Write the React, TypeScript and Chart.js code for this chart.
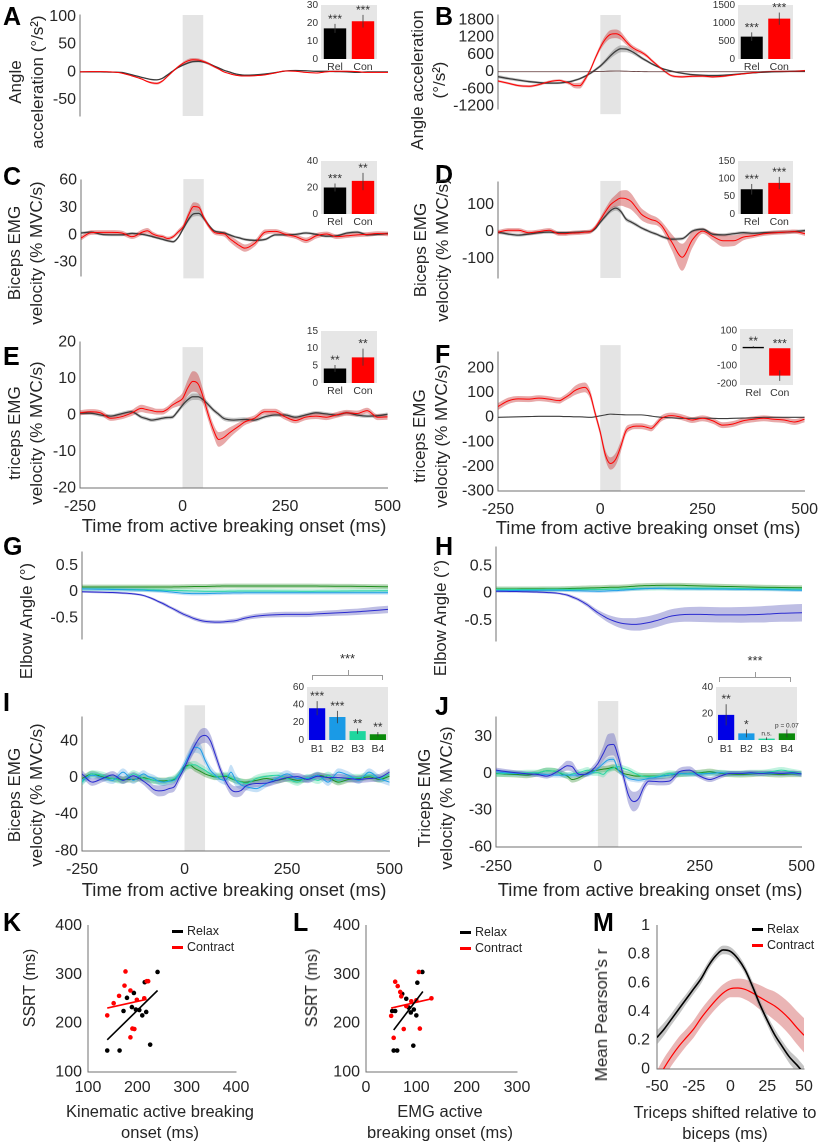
import React, { useEffect, useRef } from "react";
import { Chart, registerables } from "chart.js";

Chart.register(...registerables);

const FONT = '"Liberation Sans", Arial, Helvetica, sans-serif';
const TXT = "#262626";
const AXIS = "#707070";
const RED = "#ff0000";
const RED_BAND = "rgba(200,50,50,0.42)";
const DARK = "#3c3c3c";
const GRAY_BAND = "rgba(130,130,130,0.45)";
const C_B1 = "#2a2ad0";
const C_B2 = "#1e9ee8";
const C_B3 = "#26d6a2";
const C_B4 = "#1f8f1f";
const BAND_B1 = "rgba(100,100,190,0.42)";
const BAND_B2 = "rgba(90,165,230,0.35)";
const BAND_B3 = "rgba(80,220,165,0.35)";
const BAND_B4 = "rgba(60,150,60,0.38)";
const BAR_B = ["#0000e6", "#1a9ae6", "#1ed69e", "#0a8a0a"];

// ---------------- time grid (ms) ----------------
const T = [-250, -225, -200, -175, -150, -125, -100, -88, -75, -63, -50, -38, -25, -13, 0, 13, 25, 38, 50, 63, 75, 88, 100, 113, 125, 138, 150, 175, 200, 225, 250, 275, 300, 325, 350, 375, 400, 425, 450, 475, 500];
const TIME_TICKS = [-250, 0, 250, 500];
const ONSET = [0, 50];

// ---------------- A ----------------
const A_CON = [0, 0.5, 0.5, 0, -2, -7, -13, -17, -20, -21, -17, -9, 0, 8, 15, 20, 22, 21.5, 19, 15, 10, 5, 0, -3, -5.5, -7, -7.5, -7, -5.5, -2, 1.5, 1, -1, -2, 0, 1, 1, 0.5, -1, -1, -1];
const A_CON_SEM = [0.8, 0.8, 0.8, 0.8, 0.8, 1, 1.2, 1.5, 2, 2.2, 2, 1.8, 1.5, 2, 2.5, 3, 3, 3, 2.8, 2.5, 2, 1.5, 1.2, 1, 1, 1, 1, 0.9, 0.9, 0.9, 0.9, 0.9, 0.9, 0.9, 0.9, 0.9, 0.9, 0.9, 0.9, 0.9, 0.9];
const A_REL = [0, 0, 0, -0.5, -1, -5, -10, -12, -14, -14.5, -12, -6, 1, 7, 12, 16, 18.5, 19, 18, 15, 11, 7, 3, 0, -3, -5, -6, -5.5, -4, -1.5, 1.5, 2.5, 2, 1, 1, 0.5, 0, -1, 0, 0, 0];
const A_REL_SEM = [0.6, 0.6, 0.6, 0.6, 0.6, 0.6, 0.6, 0.8, 1, 1, 1, 1, 1, 1.2, 1.5, 1.8, 2, 2, 2, 1.8, 1.5, 1.2, 1, 1, 0.8, 0.8, 0.8, 0.8, 0.8, 0.7, 0.7, 0.7, 0.7, 0.7, 0.7, 0.7, 0.7, 0.7, 0.7, 0.7, 0.7];
const A_TICKS = [-50, 0, 50, 100];

// ---------------- B ----------------
const B_CON = [-320, -400, -480, -505, -445, -345, -300, -340, -400, -480, -483, -275, 50, 450, 850, 1150, 1300, 1320, 1250, 1050, 880, 760, 680, 560, 400, 240, 100, -140, -175, -155, -150, -175, -155, -110, -70, -30, 0, 15, 15, 20, 40];
const B_CON_SEM = [40, 40, 40, 40, 40, 40, 40, 45, 60, 90, 100, 90, 70, 80, 100, 130, 150, 150, 140, 110, 90, 80, 70, 60, 55, 50, 45, 40, 40, 40, 40, 40, 35, 30, 25, 25, 25, 25, 25, 25, 25];
const B_REL = [-170, -235, -290, -340, -375, -395, -390, -370, -345, -300, -240, -160, -60, 60, 200, 380, 560, 720, 800, 790, 720, 610, 490, 380, 280, 190, 120, 20, -50, -100, -120, -130, -120, -95, -65, -35, -15, 0, 10, 20, 30];
const B_REL_SEM = [60, 55, 50, 45, 40, 40, 40, 40, 40, 40, 40, 40, 45, 50, 60, 80, 100, 120, 120, 110, 90, 75, 60, 50, 40, 35, 30, 30, 30, 30, 30, 30, 28, 25, 25, 22, 20, 20, 20, 20, 20];
const B_THIN = [0, 0, 0, 0, 0, 0, 0, 0, 0, 0, 0, 0, 0, 5, 10, 18, 25, 28, 25, 20, 15, 10, 5, 3, 0, 0, 0, 0, 0, 0, 0, 0, 0, 0, 0, 0, 0, 0, 0, 0, 0];
const B_TICKS = [-1200, -600, 0, 600, 1200, 1800];

// ---------------- C ----------------
const C_CON = [-3.5, 2.5, 2.7, 2.7, 2, -2, 3, 4.5, 1, -1, -2, -4, -2, 3, 9, 22, 31, 30, 19, 9, 3, 1.5, 1, -4, -8, -12, -14.5, -9, 3, 3.8, 0.5, -2, -6, -1, 1, -2, -1, 0, 0.5, 1.5, 1];
const C_CON_SEM = [2.5, 2.5, 2.5, 2.5, 2.5, 2.5, 3, 3, 2.5, 2, 2, 2, 2, 2.5, 3, 4, 4.5, 4, 3, 2.5, 2.5, 2.5, 3, 3.5, 4, 4, 4, 3.5, 3, 2.5, 2.5, 2.5, 3, 3, 2.5, 2.5, 2.5, 2.5, 2.5, 2.5, 2.5];
const C_REL = [2, 3, 0.5, 0, 0, 1.6, 0.5, -0.5, -2, -3.5, -5, -6.5, -7.5, -3, 7, 17, 23, 23.5, 18, 10, 4.5, 3, 2, 0, -2, -3.5, -5, -6, -5, 0, 0, 0.5, 2, 0.5, -1.5, -1, 2, 3, 0, 0.5, 1.5];
const C_REL_SEM = [1.5, 1.5, 1.5, 1.5, 1.5, 1.5, 1.5, 1.5, 1.5, 1.5, 1.5, 1.5, 1.5, 1.5, 2, 2.5, 3, 3, 2.5, 2, 1.5, 1.5, 1.5, 1.5, 1.5, 1.5, 1.5, 1.5, 1.5, 1.5, 1.5, 1.5, 1.5, 1.5, 1.5, 1.5, 1.5, 1.5, 1.5, 1.5, 1.5];
const C_TICKS = [-30, 0, 30, 60];

// ---------------- D ----------------
const D_CON = [-2, 5, 5, -4, 0, 5, -8, -8, -6, -5, -4, -2, 0, 15, 44, 75, 100, 115, 124, 122, 112, 88, 65, 52, 44, 38, 22, -40, -95, -30, 2, -18, -34, -34, -20, -15, -8, -4, -2, 0, -8];
const D_CON_SEM = [8, 8, 8, 8, 8, 8, 8, 8, 8, 8, 8, 8, 8, 8, 10, 13, 17, 22, 28, 32, 30, 25, 22, 20, 17, 15, 15, 30, 50, 30, 10, 15, 22, 20, 12, 8, 8, 8, 8, 8, 8];
const D_REL = [-2, -9, -13, -9, -4, -2, -4, -4, -4, -3, -2, -1, 0, 10, 35, 58, 78, 87, 75, 46, 36, 25, 14, 5, -3, -10, -18, -28, -26, 2, 9, -10, -12, -8, -4, -6, -4, -3, -2, 0, 4];
const D_REL_SEM = [6, 6, 6, 6, 6, 6, 6, 6, 6, 6, 6, 6, 6, 6, 7, 8, 9, 9, 9, 8, 7, 7, 6, 6, 6, 6, 6, 6, 6, 6, 6, 6, 6, 6, 6, 6, 6, 6, 6, 6, 6];
const D_TICKS = [-100, 0, 100];

// ---------------- E ----------------
const E_CON = [0.6, 0.9, 0.6, -0.9, -0.5, 0.5, 1.8, 1.5, 1.2, 0.9, 0.9, 1.5, 2.7, 3.5, 4.5, 7.5, 9.2, 8.5, 5, 0, -4, -6.7, -6.2, -5, -4, -3, -2, -0.9, 0.9, 0.9, -0.5, -1.5, -0.6, -0.3, -0.6, 0, 0.6, 0.4, 1.2, -0.6, -0.5];
const E_CON_SEM = [0.7, 0.7, 0.7, 0.7, 0.7, 0.8, 1, 1, 0.9, 0.8, 0.8, 0.8, 0.9, 1.2, 1.6, 2.2, 2.8, 2.6, 2, 1.6, 1.6, 2, 1.8, 1.5, 1.2, 1, 0.9, 0.8, 0.8, 0.8, 0.8, 0.8, 0.8, 0.8, 0.8, 0.8, 0.8, 0.8, 0.8, 0.8, 0.8];
const E_REL = [0.5, 0.5, 0, -0.3, 0.3, 0.9, -0.6, -1, -1.4, -1.2, -0.9, -0.7, -0.6, 0.8, 2.7, 4.2, 5, 5, 4.2, 2.8, 1.4, 0.2, -0.9, -1.3, -1.4, -1.3, -1.2, -1.4, -0.5, 0, 0, -0.6, 0, 0.6, 0.3, 0, 0.6, 0, -0.3, -0.2, 0.2];
const E_REL_SEM = [0.5, 0.5, 0.5, 0.5, 0.5, 0.5, 0.5, 0.5, 0.5, 0.5, 0.5, 0.5, 0.5, 0.6, 0.7, 0.8, 0.9, 0.9, 0.8, 0.7, 0.6, 0.6, 0.6, 0.6, 0.6, 0.6, 0.6, 0.5, 0.5, 0.5, 0.5, 0.5, 0.5, 0.5, 0.5, 0.5, 0.5, 0.5, 0.5, 0.5, 0.5];
const E_TICKS = [-20, -10, 0, 10, 20];

// ---------------- F ----------------
const F_CON = [44, 67, 75, 74, 78, 74, 68, 78, 92, 108, 118, 122, 95, 20, -60, -155, -188, -170, -120, -55, -40, -36, -36, -40, -45, -25, -4, 7, 0, -11, -4, -14, -32, -27, -14, -8, -4, -8, -11, -19, -8];
const F_CON_SEM = [14, 13, 12, 12, 12, 12, 12, 12, 14, 18, 20, 20, 18, 16, 16, 20, 25, 25, 22, 16, 12, 12, 12, 12, 12, 12, 12, 12, 12, 12, 12, 12, 12, 12, 12, 12, 12, 12, 12, 12, 12];
const F_REL = [0, 1, 2, 3, 4, 4, 4, 3, 3, 2, 2, 1, 0, 2, 6, 10, 13, 12, 11, 10, 10, 10, 10, 8, 5, 2, 0, -2, -4, -4, -3, -4, -5, -4, -3, -2, 0, 0, 0, 0, 0];
const F_TICKS = [-300, -200, -100, 0, 100, 200];

// ---------------- G ----------------
const G_B1 = [0, -0.005, -0.01, -0.015, -0.025, -0.04, -0.07, -0.1, -0.14, -0.185, -0.23, -0.28, -0.33, -0.38, -0.43, -0.47, -0.51, -0.54, -0.56, -0.57, -0.575, -0.575, -0.57, -0.56, -0.55, -0.525, -0.5, -0.465, -0.445, -0.435, -0.43, -0.43, -0.43, -0.42, -0.41, -0.4, -0.39, -0.38, -0.365, -0.35, -0.335];
const G_B1_SEM = [0.02, 0.02, 0.02, 0.02, 0.02, 0.02, 0.02, 0.02, 0.025, 0.025, 0.03, 0.03, 0.03, 0.035, 0.035, 0.035, 0.035, 0.035, 0.035, 0.035, 0.035, 0.035, 0.035, 0.04, 0.04, 0.04, 0.04, 0.045, 0.045, 0.05, 0.05, 0.05, 0.05, 0.05, 0.055, 0.055, 0.06, 0.06, 0.065, 0.07, 0.07];
const G_B2 = [0.055, 0.05, 0.047, 0.043, 0.04, 0.035, 0.03, 0.025, 0.02, 0.015, 0.01, 0, -0.01, -0.02, -0.028, -0.033, -0.035, -0.035, -0.035, -0.033, -0.03, -0.028, -0.025, -0.023, -0.022, -0.021, -0.02, -0.02, -0.02, -0.02, -0.02, -0.02, -0.02, -0.02, -0.02, -0.02, -0.02, -0.02, -0.02, -0.02, -0.02];
const G_B2_SEM = 0.035;
const G_B3 = [0.055, 0.055, 0.055, 0.05, 0.045, 0.043, 0.04, 0.038, 0.035, 0.033, 0.03, 0.027, 0.025, 0.022, 0.02, 0.017, 0.015, 0.012, 0.01, 0.01, 0.01, 0.01, 0.01, 0.012, 0.013, 0.014, 0.015, 0.015, 0.015, 0.013, 0.012, 0.011, 0.01, 0.011, 0.012, 0.013, 0.015, 0.016, 0.017, 0.018, 0.02];
const G_B3_SEM = 0.04;
const G_B4 = [0.09, 0.09, 0.09, 0.09, 0.09, 0.09, 0.09, 0.09, 0.09, 0.09, 0.09, 0.09, 0.092, 0.093, 0.095, 0.097, 0.099, 0.1, 0.1, 0.103, 0.105, 0.107, 0.11, 0.11, 0.11, 0.11, 0.11, 0.11, 0.11, 0.11, 0.11, 0.11, 0.11, 0.108, 0.106, 0.105, 0.104, 0.103, 0.1, 0.097, 0.095];
const G_B4_SEM = 0.045;
const GH_TICKS = [-0.5, 0, 0.5];

// ---------------- H ----------------
const H_B1 = [0.036, 0.033, 0.03, 0.026, 0.022, 0.012, 0, -0.015, -0.036, -0.07, -0.11, -0.16, -0.22, -0.29, -0.36, -0.42, -0.47, -0.51, -0.54, -0.56, -0.57, -0.575, -0.57, -0.555, -0.54, -0.515, -0.49, -0.43, -0.4, -0.39, -0.39, -0.395, -0.4, -0.4, -0.4, -0.395, -0.39, -0.38, -0.37, -0.365, -0.36];
const H_B1_SEM = [0.02, 0.02, 0.02, 0.02, 0.02, 0.02, 0.02, 0.02, 0.025, 0.03, 0.03, 0.035, 0.04, 0.045, 0.05, 0.06, 0.07, 0.08, 0.09, 0.1, 0.11, 0.115, 0.12, 0.12, 0.12, 0.12, 0.12, 0.125, 0.13, 0.135, 0.14, 0.14, 0.14, 0.14, 0.145, 0.145, 0.15, 0.15, 0.155, 0.16, 0.16];
const H_B2 = [0.045, 0.048, 0.05, 0.051, 0.052, 0.053, 0.054, 0.053, 0.05, 0.048, 0.045, 0.042, 0.04, 0.038, 0.036, 0.038, 0.042, 0.046, 0.05, 0.057, 0.064, 0.071, 0.077, 0.082, 0.086, 0.088, 0.09, 0.085, 0.08, 0.079, 0.078, 0.077, 0.075, 0.073, 0.07, 0.069, 0.068, 0.065, 0.06, 0.057, 0.054];
const H_B2_SEM = 0.03;
const H_B3 = [0.068, 0.068, 0.068, 0.068, 0.068, 0.069, 0.07, 0.07, 0.07, 0.07, 0.07, 0.07, 0.07, 0.07, 0.07, 0.072, 0.074, 0.076, 0.078, 0.08, 0.082, 0.084, 0.085, 0.086, 0.087, 0.088, 0.089, 0.09, 0.09, 0.09, 0.09, 0.09, 0.09, 0.088, 0.086, 0.084, 0.082, 0.08, 0.078, 0.076, 0.075];
const H_B3_SEM = 0.04;
const H_B4 = [0.077, 0.078, 0.078, 0.079, 0.079, 0.08, 0.08, 0.082, 0.085, 0.088, 0.09, 0.093, 0.096, 0.098, 0.1, 0.104, 0.107, 0.11, 0.11, 0.115, 0.12, 0.128, 0.135, 0.138, 0.14, 0.142, 0.144, 0.145, 0.145, 0.14, 0.135, 0.13, 0.126, 0.122, 0.118, 0.114, 0.11, 0.107, 0.104, 0.102, 0.1];
const H_B4_SEM = 0.045;

// ---------------- I ----------------
const I_B1 = [4, -5, -1, 3, -3, 2, -4, -8, -13, -14.5, -14, -12, -10, 0, 11, 24, 35, 44, 46, 40, 25, 8, -4, -13, -15.5, -14, -9, -6.5, -6, -3, 0, 1, -2, 1.5, 0, 0, -1, -2, -1, 0, 6];
const I_B1_SEM = [4, 4, 4, 4, 4, 4, 4, 5, 5, 6, 6, 5, 5, 5, 5, 6, 7, 8, 8, 7, 6, 5, 5, 6, 6, 6, 5, 4, 4, 4, 4, 4, 4, 4, 4, 4, 4, 4, 4, 4, 4];
const I_B2 = [-3, 2.5, 0, -3, 6, -3, 4, 1, -1, -4, -5, -4, -3, 4, 15, 26, 33, 31, 19, 8, 2.5, -2, -3, 6, -3, -8, -10, -12, -6.5, -1, 4, -1, -1, 2.5, -5, 6, 2.5, -3, 6, -1, -5];
const I_B2_SEM = [4, 4, 4, 4, 4, 4, 4, 4, 4, 4, 4, 4, 4, 4, 5, 6, 6, 6, 5, 5, 4, 4, 5, 8, 7, 5, 4, 4, 4, 4, 4, 4, 4, 4, 4, 4, 4, 4, 4, 4, 4];
const I_B3 = [-5, 4, 2.5, -1, -3, 4, -1, -2, -3, -4, -5, -3, -1, 4, 10, 13.5, 14, 11, 8, 4, 1.5, 1.5, 2.5, 0, -3, -5, -6.5, -1, 1.5, 2.5, -1, -5, 0, -3, 2.5, -3, 0, 0, 2.5, -1, 4];
const I_B3_SEM = 4;
const I_B4 = [-1, 4, 0.7, -1, -2, -2, 0, -1.5, -3, -3.5, -3.6, -3, -2, 4, 11.6, 13.5, 10, 7, 4, 2, 0.7, 1, 1.5, -1, -3, -4.5, -5, -3, -1, -3, -1, -3, -1, 2.5, 0, -5, -2, -1, 0.7, -2, 1.5];
const I_B4_SEM = 3.5;
const I_TICKS = [-80, -40, 0, 40];

// ---------------- J ----------------
const J_B1 = [2.7, 1.5, 0.5, -0.3, -0.8, -2.2, 1.4, 4, 6.3, 5.5, 0, -1, 0, 3, 8, 16, 23, 23.7, 13.6, -2.7, -17.7, -23, -20.5, -11, -6.3, -6.5, -6.8, -6.3, 1.4, 2.7, -2.2, -5, -2.2, 0, 0, 0.5, 0, 0.5, 0, 0.5, -0.5];
const J_B1_SEM = [2, 2, 2, 2, 2, 2, 2, 3, 4, 4, 3, 2, 2, 3, 4, 6, 9, 9, 7, 5, 7, 8, 7, 4, 3, 3, 3, 3, 3, 3, 2, 2, 2, 2, 2, 2, 2, 2, 2, 2, 2];
const J_B2 = [1.4, 0.5, 0, -0.5, -0.5, -1, -1.4, -1.4, -1.4, -1.4, -1.4, -1, -0.8, 1, 4, 8, 11, 11.5, 2.7, -1, -4, -5, -5.5, -5, -4, -3.5, -2.7, -1.4, 0, -0.5, -0.5, 0, 0.5, 0, 0, 0, 0, 0, 0, 0, -0.5];
const J_B2_SEM = 2;
const J_B3 = [-0.5, 0, 0, 0.5, 0.5, 2.2, 1.4, 0, -1.4, -0.5, 0.5, 1.5, 2.7, 0.5, 0.5, -0.8, 2.7, 4.5, 5.5, 4, 2.7, 0.5, -1.4, -2.5, -2.7, -2.5, -2.2, 0, -0.5, 0, 0, 0, 0.5, 0, 0, 0.5, 0.5, 1.4, 2.7, 1.4, 0];
const J_B3_SEM = 2.5;
const J_B4 = [0, -0.5, -0.8, -1.4, 0, 2.2, 1.4, -0.5, -2.2, -5, -4, -2, 0.5, 2, 2.7, 3.5, 4, 5, 2.7, 0, -1, -2, -2.2, -2.2, -2.2, -2.2, -2.2, -1.4, -0.5, 0, 0.5, 1.4, 0, -0.5, -0.8, -0.5, 0, -0.5, -0.8, -0.5, -0.5];
const J_B4_SEM = 2.5;
const J_TICKS = [-60, -30, 0, 30];

// ---------------- insets ----------------
const RC_LABELS = ["Rel", "Con"];
const A_BAR = [17, 21], A_BAR_HI = [19.5, 24.5], A_BAR_LO = [14.5, 17.5], A_STARS = ["***", "***"], A_BAR_TICKS = [0, 10, 20, 30];
const B_BAR = [620, 1120], B_BAR_HI = [740, 1290], B_BAR_LO = [500, 950], B_STARS = ["***", "***"], B_BAR_TICKS = [0, 500, 1000, 1500];
const C_BAR = [20, 25], C_BAR_HI = [23, 31], C_BAR_LO = [17, 18], C_STARS = ["***", "**"], C_BAR_TICKS = [0, 10, 20, 30, 40];
const D_BAR = [70, 88], D_BAR_HI = [85, 105], D_BAR_LO = [55, 70], D_STARS = ["***", "***"], D_BAR_TICKS = [0, 50, 100, 150];
const E_BAR = [4.2, 7.4], E_BAR_HI = [5.2, 9.9], E_BAR_LO = [3.2, 5], E_STARS = ["**", "**"], E_BAR_TICKS = [0, 5, 10, 15];
const F_BAR = [8, -155], F_BAR_HI = [12, -125], F_BAR_LO = [4, -185], F_STARS = ["**", "***"], F_BAR_TICKS = [-200, -100, 0, 100];
const B_LABELS = ["B1", "B2", "B3", "B4"];
const I_BAR = [36, 26, 10, 6.5], I_BAR_HI = [44, 33, 13, 9], I_BAR_LO = [28, 19, 7, 4], I_STARS = ["***", "***", "**", "**"], I_BAR_TICKS = [0, 20, 40, 60];
const J_BAR = [19, 5, 1, 5], J_BAR_HI = [27, 8, 2, 8], J_BAR_LO = [11, 2, 0, 2], J_STARS = ["**", "*", "n.s.", "p = 0.07"], J_BAR_TICKS = [0, 20, 40];

// ---------------- K / L scatter ----------------
const K_RED_X = [139, 152, 163, 174, 176, 186, 186, 190, 194, 199, 214, 219, 222];
const K_RED_Y = [216, 241, 256, 277, 306, 267, 171, 189, 188, 248, 251, 286, 286];
const K_BLK_X = [139, 164, 179, 172, 189, 193, 197, 204, 210, 215, 218, 226, 241];
const K_BLK_Y = [144, 144, 252, 225, 233, 262, 228, 227, 216, 284, 223, 156, 305];
const K_FIT_BLK_X = [139, 241], K_FIT_BLK_Y = [166, 267];
const K_FIT_RED_X = [139, 219], K_FIT_RED_Y = [231, 249];
const K_XTICKS = [100, 200, 300, 400];
const L_RED_X = [50, 55, 58, 63, 68, 70, 75, 80, 90, 100, 105, 107, 130];
const L_RED_Y = [215, 170, 285, 276, 264, 255, 188, 235, 245, 247, 305, 189, 251];
const L_BLK_X = [52, 58, 55, 62, 72, 80, 85, 89, 94, 100, 102, 112, 95];
const L_BLK_Y = [225, 225, 144, 144, 260, 250, 232, 222, 154, 216, 283, 305, 228];
const L_FIT_BLK_X = [55, 113], L_FIT_BLK_Y = [186, 265];
const L_FIT_RED_X = [50, 130], L_FIT_RED_Y = [231, 250];
const L_XTICKS = [0, 100, 200, 300];
const SSRT_TICKS = [100, 200, 300, 400];

// ---------------- M ----------------
const M_X = [-50, -45, -40, -35, -30, -25, -20, -15, -10, -5, 0, 5, 10, 15, 20, 25, 30, 35, 40, 45, 50];
const M_REL = [0.22, 0.28, 0.35, 0.42, 0.49, 0.56, 0.63, 0.72, 0.79, 0.83, 0.82, 0.77, 0.69, 0.575, 0.45, 0.34, 0.24, 0.16, 0.085, 0.03, -0.03];
const M_REL_SEM = [0.05, 0.045, 0.04, 0.04, 0.035, 0.035, 0.035, 0.03, 0.03, 0.03, 0.03, 0.03, 0.03, 0.035, 0.035, 0.035, 0.04, 0.04, 0.045, 0.05, 0.05];
const M_CON = [-0.08, 0.01, 0.09, 0.16, 0.22, 0.28, 0.355, 0.42, 0.48, 0.53, 0.56, 0.565, 0.555, 0.53, 0.5, 0.47, 0.44, 0.4, 0.35, 0.29, 0.235];
const M_CON_SEM = [0.07, 0.07, 0.065, 0.065, 0.06, 0.06, 0.06, 0.06, 0.06, 0.06, 0.06, 0.065, 0.07, 0.075, 0.085, 0.09, 0.1, 0.105, 0.11, 0.115, 0.12];
const M_XTICKS = [-50, -25, 0, 25, 50];
const M_YTICKS = [0, 0.2, 0.4, 0.6, 0.8, 1];

// ================= helpers =================
type Series = { y: number[]; sem?: number | number[]; color: string; band?: string; width?: number };

function buildLines(xs: number[], series: Series[]) {
  const lines: any[] = [];
  const bands: any[] = [];
  for (const s of series) {
    lines.push({
      data: xs.map((x, i) => ({ x, y: s.y[i] })),
      borderColor: s.color,
      borderWidth: s.width ?? 1,
      pointRadius: 0,
      fill: false,
    });
    if (s.sem !== undefined) {
      const e = (i: number) => (typeof s.sem === "number" ? (s.sem as number) : (s.sem as number[])[i]);
      bands.push({ data: xs.map((x, i) => ({ x, y: s.y[i] + e(i) })), borderWidth: 0, pointRadius: 0, backgroundColor: s.band, fill: "+1" });
      bands.push({ data: xs.map((x, i) => ({ x, y: s.y[i] - e(i) })), borderWidth: 0, pointRadius: 0, fill: false });
    }
  }
  return [...lines, ...bands];
}

function linAxis(o: { min: number; max: number; ticks: number[]; pos: string; show: boolean; fit: number; pad: number; size?: number }) {
  return {
    type: "linear",
    position: o.pos,
    min: o.min,
    max: o.max,
    display: o.show,
    afterFit: (s: any) => {
      if (o.pos === "left") s.width = o.fit;
      else s.height = o.fit;
    },
    afterBuildTicks: (s: any) => {
      s.ticks = o.ticks.map((v) => ({ value: v }));
    },
    grid: { display: false, drawTicks: false },
    border: { display: true, color: AXIS, width: 1 },
    ticks: {
      font: { family: FONT, size: o.size ?? 16 },
      color: TXT,
      padding: o.pad,
      maxRotation: 0,
      autoSkip: false,
      callback: (v: any) => String(v),
    },
  };
}

const onsetPlugin = (range: number[] | null) => ({
  id: "onset",
  beforeDraw(chart: any) {
    const { ctx, chartArea, scales } = chart;
    const x0 = scales.x.getPixelForValue(ONSET[0]);
    const x1 = scales.x.getPixelForValue(ONSET[1]);
    const yTop = range ? scales.y.getPixelForValue(range[1]) : chartArea.top;
    const yBot = range ? scales.y.getPixelForValue(range[0]) : chartArea.bottom;
    ctx.save();
    ctx.fillStyle = "#e4e4e4";
    ctx.fillRect(x0, yTop, x1 - x0, yBot - yTop);
    ctx.restore();
  },
});

const areaBg = {
  id: "areaBg",
  beforeDraw(chart: any) {
    const { ctx, chartArea: a } = chart;
    ctx.save();
    ctx.fillStyle = "#e6e6e6";
    ctx.fillRect(a.left, a.top, a.right - a.left, a.bottom - a.top);
    ctx.restore();
  },
};

const errPlugin = (hi: number[], lo: number[], stars: string[]) => ({
  id: "err",
  afterDatasetsDraw(chart: any) {
    const meta = chart.getDatasetMeta(0);
    const y = chart.scales.y;
    const ctx = chart.ctx;
    ctx.save();
    meta.data.forEach((bar: any, i: number) => {
      const x = bar.x;
      ctx.strokeStyle = "#3a3a3a";
      ctx.lineWidth = 0.8;
      ctx.beginPath();
      ctx.moveTo(x, y.getPixelForValue(lo[i]));
      ctx.lineTo(x, y.getPixelForValue(hi[i]));
      ctx.stroke();
      const s = stars[i];
      const small = s.indexOf("*") < 0;
      ctx.fillStyle = "#333";
      ctx.textAlign = "center";
      ctx.textBaseline = "alphabetic";
      ctx.font = `${small ? 6.5 : 12}px ${FONT}`;
      const top = y.getPixelForValue(Math.max(hi[i], 0));
      ctx.fillText(s, x, small ? top - 2 : top - 1);
    });
    ctx.restore();
  },
});

const BASE = { responsive: false, animation: false, devicePixelRatio: 2, events: [] as any[] };
const NOPLUG = { legend: { display: false }, tooltip: { enabled: false } };

// main time-series panels
const TS_PAD = { L: 62, T: 18, R: 22, BX: 34, BH: 12 };

function tsConfig(p: any) {
  return {
    type: "line",
    data: { datasets: buildLines(p.xs ?? T, p.series) },
    options: {
      ...BASE,
      layout: { padding: { left: 0, top: TS_PAD.T, right: TS_PAD.R, bottom: p.showX ? 0 : TS_PAD.BH } },
      elements: { line: { cubicInterpolationMode: "monotone" } },
      scales: {
        x: linAxis({ min: -250, max: 500, ticks: TIME_TICKS, pos: "bottom", show: p.showX, fit: TS_PAD.BX, pad: p.xpad ?? 9 }),
        y: linAxis({ min: p.y[0], max: p.y[1], ticks: p.ticks, pos: "left", show: true, fit: TS_PAD.L, pad: 4 }),
      },
      plugins: NOPLUG,
    },
    plugins: [onsetPlugin(p.band)],
  };
}

const IN_PAD = { L: 30, T: 14, R: 4, B: 18 };
function insetConfig(p: any) {
  return {
    type: "bar",
    data: {
      labels: p.labels,
      datasets: [{ data: p.values, backgroundColor: p.colors, barPercentage: 0.8, categoryPercentage: 1, borderWidth: 0 }],
    },
    options: {
      ...BASE,
      layout: { padding: { left: 0, top: IN_PAD.T, right: IN_PAD.R, bottom: 0 } },
      scales: {
        x: {
          afterFit: (s: any) => { s.height = IN_PAD.B; },
          grid: { display: false, drawTicks: false },
          border: { display: false },
          ticks: { font: { family: FONT, size: 10.5 }, color: "#333", padding: p.xpad ?? 2 },
        },
        y: {
          type: "linear",
          min: p.y[0],
          max: p.y[1],
          afterFit: (s: any) => { s.width = IN_PAD.L; },
          afterBuildTicks: (s: any) => { s.ticks = p.ticks.map((v: number) => ({ value: v })); },
          grid: { display: false, drawTicks: false },
          border: { display: false },
          ticks: { font: { family: FONT, size: 10 }, color: "#333", padding: 3, callback: (v: any) => String(v) },
        },
      },
      plugins: NOPLUG,
    },
    plugins: [areaBg, errPlugin(p.hi, p.lo, p.stars)],
  };
}

const SC_PAD = { L: 50, T: 14, R: 20, B: 30 };
function pts(xs: number[], ys: number[]) {
  return xs.map((x, i) => ({ x, y: ys[i] }));
}
function scatterConfig(p: any) {
  return {
    type: "scatter",
    data: {
      datasets: [
        { type: "line", data: pts(p.fbx, p.fby), borderColor: "#000", borderWidth: 1.6, pointRadius: 0, showLine: true },
        { type: "line", data: pts(p.frx, p.fry), borderColor: RED, borderWidth: 1.6, pointRadius: 0, showLine: true },
        { data: pts(p.rx, p.ry), backgroundColor: RED, borderWidth: 0, pointRadius: 2.3 },
        { data: pts(p.bx, p.by), backgroundColor: "#000", borderWidth: 0, pointRadius: 2.3 },
      ],
    },
    options: {
      ...BASE,
      layout: { padding: { left: 0, top: SC_PAD.T, right: SC_PAD.R, bottom: 0 } },
      scales: {
        x: linAxis({ min: p.x[0], max: p.x[1], ticks: p.xticks, pos: "bottom", show: true, fit: SC_PAD.B, pad: 6 }),
        y: linAxis({ min: 100, max: 400, ticks: SSRT_TICKS, pos: "left", show: true, fit: SC_PAD.L, pad: 6 }),
      },
      plugins: NOPLUG,
    },
  };
}

function mConfig() {
  return {
    type: "line",
    data: {
      datasets: buildLines(M_X, [
        { y: M_REL, sem: M_REL_SEM, color: "#000", band: "rgba(150,150,150,0.55)", width: 1.6 },
        { y: M_CON, sem: M_CON_SEM, color: RED, band: "rgba(200,60,60,0.38)", width: 1.2 },
      ]),
    },
    options: {
      ...BASE,
      layout: { padding: { left: 0, top: SC_PAD.T, right: SC_PAD.R, bottom: 0 } },
      elements: { line: { cubicInterpolationMode: "monotone" } },
      scales: {
        x: linAxis({ min: -50, max: 50, ticks: M_XTICKS, pos: "bottom", show: true, fit: SC_PAD.B, pad: 8 }),
        y: linAxis({ min: 0, max: 1, ticks: M_YTICKS, pos: "left", show: true, fit: SC_PAD.L, pad: 7 }),
      },
      plugins: NOPLUG,
    },
  };
}

// ================= components =================
function Plot({ area, pad, make }: { area: number[]; pad: number[]; make: () => any }) {
  const ref = useRef<HTMLCanvasElement | null>(null);
  useEffect(() => {
    if (!ref.current) return;
    const chart = new Chart(ref.current, make());
    return () => chart.destroy();
  }, []);
  const [x0, y0, x1, y1] = area;
  const [L, Tp, R, B] = pad;
  const w = x1 - x0 + L + R;
  const h = y1 - y0 + Tp + B;
  return <canvas ref={ref} width={w} height={h} style={{ position: "absolute", left: x0 - L, top: y0 - Tp, width: w, height: h }} />;
}

function Letter({ ch, x, y }: { ch: string; x: number; y: number }) {
  return (
    <div style={{ position: "absolute", left: x, top: y, fontFamily: FONT, fontWeight: "bold", fontSize: 25, lineHeight: "25px", color: "#000" }}>{ch}</div>
  );
}

function VTitle({ cx, cy, lines, size = 17, lh = 22 }: { cx: number; cy: number; lines: string[]; size?: number; lh?: number }) {
  return (
    <div
      style={{
        position: "absolute", left: cx, top: cy, transform: "translate(-50%,-50%) rotate(-90deg)",
        fontFamily: FONT, fontSize: size, lineHeight: lh + "px", color: TXT, whiteSpace: "nowrap", textAlign: "center",
      }}
    >
      {lines.map((l, i) => (<div key={i}>{l}</div>))}
    </div>
  );
}

function HTitle({ cx, cy, lines, size = 18.5, lh = 21 }: { cx: number; cy: number; lines: string[]; size?: number; lh?: number }) {
  return (
    <div
      style={{
        position: "absolute", left: cx, top: cy, transform: "translate(-50%,-50%)",
        fontFamily: FONT, fontSize: size, lineHeight: lh + "px", color: TXT, whiteSpace: "nowrap", textAlign: "center",
      }}
    >
      {lines.map((l, i) => (<div key={i}>{l}</div>))}
    </div>
  );
}

function Legend({ x, y }: { x: number; y: number }) {
  const rows = [{ c: "#000", t: "Relax" }, { c: RED, t: "Contract" }];
  return (
    <>
      {rows.map((r, i) => (
        <React.Fragment key={i}>
          <div style={{ position: "absolute", left: x, top: y + i * 16 - 1, width: 11, height: 2.5, background: r.c }} />
          <div style={{ position: "absolute", left: x + 15, top: y + i * 16 - 8, fontFamily: FONT, fontSize: 12.5, lineHeight: "16px", color: TXT }}>{r.t}</div>
        </React.Fragment>
      ))}
    </>
  );
}

function Bracket({ x0, x1, y, label }: { x0: number; x1: number; y: number; label: string }) {
  const mid = (x0 + x1) / 2;
  const c = "#9a9a9a";
  return (
    <>
      <div style={{ position: "absolute", left: x0, top: y, width: x1 - x0, height: 1, background: c }} />
      <div style={{ position: "absolute", left: x0, top: y, width: 1, height: 5, background: c }} />
      <div style={{ position: "absolute", left: x1 - 1, top: y, width: 1, height: 5, background: c }} />
      <div style={{ position: "absolute", left: mid, top: y - 5, width: 1, height: 5, background: c }} />
      <div style={{ position: "absolute", left: mid, top: y - 17, transform: "translate(-50%,-50%)", fontFamily: FONT, fontSize: 13, color: "#333", whiteSpace: "nowrap" }}>{label}</div>
    </>
  );
}

// ================= panel definitions =================
const TS_PANELS = [
  { area: [80, 15, 388, 150], y: [-80, 103], ticks: A_TICKS, showX: false, band: null,
    series: [{ y: A_CON, sem: A_CON_SEM, color: RED, band: RED_BAND }, { y: A_REL, sem: A_REL_SEM, color: DARK, band: GRAY_BAND, width: 1.3 }] },
  { area: [498, 15, 805, 143], y: [-1294, 1974], ticks: B_TICKS, showX: false, band: [-1473, 1974],
    series: [{ y: B_THIN, color: "#5a3030", width: 0.8 }, { y: B_CON, sem: B_CON_SEM, color: RED, band: RED_BAND }, { y: B_REL, sem: B_REL_SEM, color: DARK, band: GRAY_BAND, width: 1.3 }] },
  { area: [81, 180, 388, 310], y: [-45, 60], ticks: C_TICKS, showX: false, band: [-47.6, 61],
    series: [{ y: C_CON, sem: C_CON_SEM, color: RED, band: RED_BAND }, { y: C_REL, sem: C_REL_SEM, color: DARK, band: GRAY_BAND, width: 1.3 }] },
  { area: [498, 182, 805, 312], y: [-172, 184], ticks: D_TICKS, showX: false, band: [-172, 188],
    series: [{ y: D_CON, sem: D_CON_SEM, color: RED, band: RED_BAND }, { y: D_REL, sem: D_REL_SEM, color: DARK, band: GRAY_BAND, width: 1.3 }] },
  { area: [80, 342, 388, 488], y: [-20, 20], ticks: E_TICKS, showX: true, band: [-20, 18.6],
    series: [{ y: E_CON, sem: E_CON_SEM, color: RED, band: RED_BAND }, { y: E_REL, sem: E_REL_SEM, color: DARK, band: GRAY_BAND, width: 1.3 }] },
  { area: [498, 352, 805, 491], y: [-300, 266], ticks: F_TICKS, showX: true, band: [-300, 294],
    series: [{ y: F_CON, sem: F_CON_SEM, color: RED, band: RED_BAND }, { y: F_REL, color: DARK, width: 1.1 }] },
  { area: [82, 552, 388, 673], y: [-0.896, 0.754], ticks: GH_TICKS, showX: false, band: null, noBand: true,
    series: [
      { y: G_B1, sem: G_B1_SEM, color: C_B1, band: BAND_B1 },
      { y: G_B2, sem: G_B2_SEM, color: C_B2, band: BAND_B2 },
      { y: G_B3, sem: G_B3_SEM, color: C_B3, band: BAND_B3 },
      { y: G_B4, sem: G_B4_SEM, color: C_B4, band: BAND_B4 },
    ] },
  { area: [496, 547, 802, 675], y: [-0.88, 0.85], ticks: GH_TICKS, showX: false, band: null, noBand: true,
    series: [
      { y: H_B1, sem: H_B1_SEM, color: C_B1, band: BAND_B1 },
      { y: H_B2, sem: H_B2_SEM, color: C_B2, band: BAND_B2 },
      { y: H_B3, sem: H_B3_SEM, color: C_B3, band: BAND_B3 },
      { y: H_B4, sem: H_B4_SEM, color: C_B4, band: BAND_B4 },
    ] },
  { area: [82, 717, 390, 851], y: [-80, 66], ticks: I_TICKS, showX: true, band: [-80, 78.8],
    series: [
      { y: I_B1, sem: I_B1_SEM, color: C_B1, band: BAND_B1 },
      { y: I_B2, sem: I_B2_SEM, color: C_B2, band: BAND_B2 },
      { y: I_B3, sem: I_B3_SEM, color: C_B3, band: BAND_B3 },
      { y: I_B4, sem: I_B4_SEM, color: C_B4, band: BAND_B4 },
    ] },
  { area: [496, 717, 803, 847], y: [-60, 46], ticks: J_TICKS, showX: true, band: [-60, 59], xpad: 10,
    series: [
      { y: J_B1, sem: J_B1_SEM, color: C_B1, band: BAND_B1 },
      { y: J_B2, sem: J_B2_SEM, color: C_B2, band: BAND_B2 },
      { y: J_B3, sem: J_B3_SEM, color: C_B3, band: BAND_B3 },
      { y: J_B4, sem: J_B4_SEM, color: C_B4, band: BAND_B4 },
    ] },
];

const RC_COLORS = ["#000000", "#ff0000"];
const INSETS = [
  { area: [321, 5, 377, 59], labels: RC_LABELS, values: A_BAR, hi: A_BAR_HI, lo: A_BAR_LO, stars: A_STARS, y: [0, 30], ticks: A_BAR_TICKS, colors: RC_COLORS },
  { area: [738, 5, 793, 59], labels: RC_LABELS, values: B_BAR, hi: B_BAR_HI, lo: B_BAR_LO, stars: B_STARS, y: [0, 1500], ticks: B_BAR_TICKS, colors: RC_COLORS },
  { area: [321, 161, 377, 214], labels: RC_LABELS, values: C_BAR, hi: C_BAR_HI, lo: C_BAR_LO, stars: C_STARS, y: [0, 40], ticks: C_BAR_TICKS, colors: RC_COLORS },
  { area: [738, 161, 793, 214], labels: RC_LABELS, values: D_BAR, hi: D_BAR_HI, lo: D_BAR_LO, stars: D_STARS, y: [0, 150], ticks: D_BAR_TICKS, colors: RC_COLORS },
  { area: [321, 331, 377, 383], labels: RC_LABELS, values: E_BAR, hi: E_BAR_HI, lo: E_BAR_LO, stars: E_STARS, y: [0, 15], ticks: E_BAR_TICKS, colors: RC_COLORS },
  { area: [740, 329, 793, 385], labels: RC_LABELS, values: F_BAR, hi: F_BAR_HI, lo: F_BAR_LO, stars: F_STARS, y: [-208, 109], ticks: F_BAR_TICKS, colors: RC_COLORS },
  { area: [307, 687, 388, 740], labels: B_LABELS, values: I_BAR, hi: I_BAR_HI, lo: I_BAR_LO, stars: I_STARS, y: [0, 60], ticks: I_BAR_TICKS, colors: BAR_B, xpad: 3 },
  { area: [716, 687, 797, 740], labels: B_LABELS, values: J_BAR, hi: J_BAR_HI, lo: J_BAR_LO, stars: J_STARS, y: [0, 40], ticks: J_BAR_TICKS, colors: BAR_B, xpad: 3 },
];

export default function App() {
  return (
    <div style={{ position: "absolute", left: 0, top: 0, width: 820, height: 1143, overflow: "hidden", background: "#fff" }}>
      {TS_PANELS.map((p: any, i) => (
        <Plot
          key={"ts" + i}
          area={p.area}
          pad={[TS_PAD.L, TS_PAD.T, TS_PAD.R, p.showX ? TS_PAD.BX : TS_PAD.BH]}
          make={() => {
            const cfg: any = tsConfig(p);
            if (p.noBand) cfg.plugins = [];
            return cfg;
          }}
        />
      ))}
      {INSETS.map((p: any, i) => (
        <Plot key={"in" + i} area={p.area} pad={[IN_PAD.L, IN_PAD.T, IN_PAD.R, IN_PAD.B]} make={() => insetConfig(p)} />
      ))}
      <Plot area={[88, 924, 236, 1072]} pad={[SC_PAD.L, SC_PAD.T, SC_PAD.R, SC_PAD.B]}
        make={() => scatterConfig({ rx: K_RED_X, ry: K_RED_Y, bx: K_BLK_X, by: K_BLK_Y, fbx: K_FIT_BLK_X, fby: K_FIT_BLK_Y, frx: K_FIT_RED_X, fry: K_FIT_RED_Y, x: [100, 400], xticks: K_XTICKS })} />
      <Plot area={[366, 924, 517, 1072]} pad={[SC_PAD.L, SC_PAD.T, SC_PAD.R, SC_PAD.B]}
        make={() => scatterConfig({ rx: L_RED_X, ry: L_RED_Y, bx: L_BLK_X, by: L_BLK_Y, fbx: L_FIT_BLK_X, fby: L_FIT_BLK_Y, frx: L_FIT_RED_X, fry: L_FIT_RED_Y, x: [0, 300], xticks: L_XTICKS })} />
      <Plot area={[657, 923, 804, 1069]} pad={[SC_PAD.L, SC_PAD.T, SC_PAD.R, SC_PAD.B]} make={mConfig} />

      <Letter ch="A" x={3} y={4} />
      <Letter ch="B" x={435} y={4} />
      <Letter ch="C" x={3} y={164} />
      <Letter ch="D" x={435} y={162} />
      <Letter ch="E" x={3} y={344} />
      <Letter ch="F" x={435} y={342} />
      <Letter ch="G" x={3} y={534} />
      <Letter ch="H" x={435} y={534} />
      <Letter ch="I" x={3} y={690} />
      <Letter ch="J" x={435} y={694} />
      <Letter ch="K" x={3} y={910} />
      <Letter ch="L" x={293} y={910} />
      <Letter ch="M" x={593} y={910} />

      <VTitle cx={27} cy={82} lines={["Angle", "acceleration (°/s²)"]} />
      <VTitle cx={429} cy={80} lines={["Angle acceleration", "(°/s²)"]} />
      <VTitle cx={26} cy={253} lines={["Biceps EMG", "velocity (% MVC/s)"]} />
      <VTitle cx={432} cy={250} lines={["Biceps EMG", "velocity (% MVC/s)"]} />
      <VTitle cx={26} cy={433} lines={["triceps EMG", "velocity (% MVC/s)"]} />
      <VTitle cx={431} cy={436} lines={["triceps EMG", "velocity (% MVC/s)"]} />
      <VTitle cx={27} cy={621} lines={["Elbow Angle (°)"]} />
      <VTitle cx={441} cy={618} lines={["Elbow Angle (°)"]} />
      <VTitle cx={26} cy={795} lines={["Biceps EMG", "velocity (% MVC/s)"]} />
      <VTitle cx={436} cy={798} lines={["Triceps EMG", "velocity (% MVC/s)"]} />
      <VTitle cx={30} cy={988} lines={["SSRT (ms)"]} size={16} />
      <VTitle cx={312} cy={988} lines={["SSRT (ms)"]} size={16} />
      <VTitle cx={602} cy={1015} lines={["Mean Pearson's r"]} />

      <HTitle cx={234} cy={525} lines={["Time from active breaking onset (ms)"]} />
      <HTitle cx={648} cy={527} lines={["Time from active breaking onset (ms)"]} />
      <HTitle cx={234} cy={889} lines={["Time from active breaking onset (ms)"]} />
      <HTitle cx={650} cy={889} lines={["Time from active breaking onset (ms)"]} />
      <HTitle cx={160} cy={1122} lines={["Kinematic active breaking", "onset (ms)"]} size={16.5} />
      <HTitle cx={440} cy={1122} lines={["EMG active", "breaking onset (ms)"]} size={16.5} />
      <HTitle cx={725} cy={1123} lines={["Triceps shifted relative to", "biceps (ms)"]} size={16.5} />

      <Legend x={172} y={931} />
      <Legend x={460} y={932} />
      <Legend x={752} y={929} />

      <Bracket x0={312} x1={383} y={675} label="***" />
      <Bracket x0={719} x1={791} y={677} label="***" />
    </div>
  );
}
